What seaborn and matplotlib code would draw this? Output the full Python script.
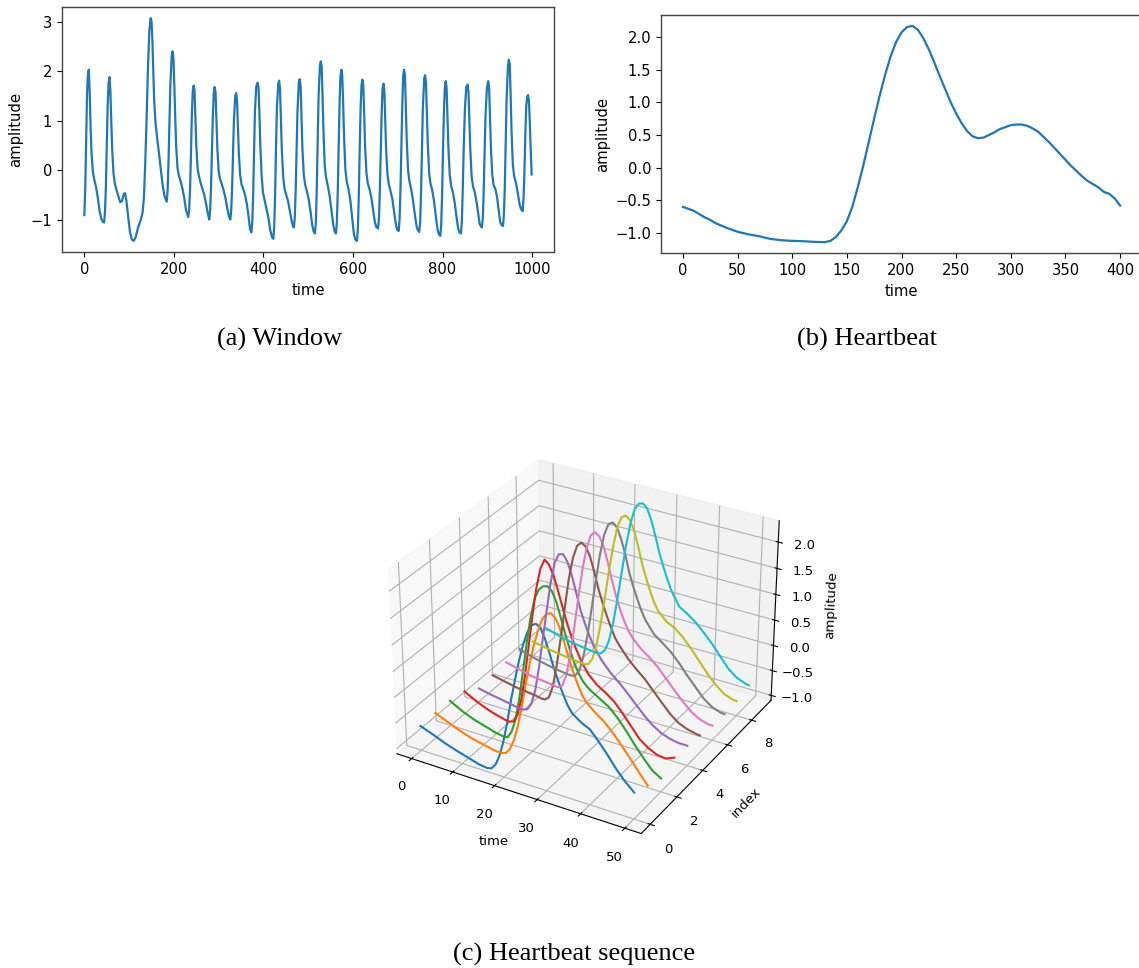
import matplotlib
matplotlib.use("Agg")
import matplotlib.pyplot as plt
import seaborn as sns

W, H = 1139, 968

# ---- panel (a) window
window_time = [
    0, 2, 4, 6, 8, 10, 12, 14, 16, 19, 22, 26, 30, 34, 38, 41, 44,
    46, 48, 50, 52, 54, 56, 58, 60, 62, 65, 68, 72, 76, 80, 84, 88, 91, 94, 98, 102, 106, 110,
    114, 120, 126, 130, 133, 136, 139, 142, 145, 148, 150, 152, 154, 156, 159, 163, 167, 171, 175, 179, 184,
    186, 188, 190, 192, 195, 197, 199, 201, 203, 205, 208, 211, 215, 219, 223, 227, 232,
    234, 236, 238, 240, 242, 244, 246, 248, 250, 253, 256, 260, 264, 268, 272, 276, 279,
    281, 283, 285, 287, 289, 291, 293, 295, 297, 300, 303, 307, 311, 315, 319, 323, 326,
    328, 330, 332, 334, 337, 339, 341, 343, 345, 348, 351, 355, 359, 363, 367, 370, 373,
    375, 377, 379, 381, 384, 387, 389, 391, 393, 396, 399, 403, 407, 411, 415, 419, 422,
    424, 426, 428, 430, 433, 435, 437, 439, 441, 444, 447, 451, 455, 459, 463, 466, 468,
    470, 472, 474, 476, 479, 481, 483, 485, 487, 490, 493, 497, 501, 505, 509, 512, 515,
    517, 519, 521, 523, 526, 528, 530, 532, 534, 537, 540, 544, 548, 552, 556, 559, 562,
    564, 566, 568, 570, 572, 574, 576, 578, 580, 583, 586, 590, 594, 598, 602, 605, 609,
    611, 613, 615, 617, 619, 621, 623, 625, 627, 630, 633, 637, 641, 645, 649, 652, 656,
    658, 660, 662, 664, 666, 668, 670, 672, 674, 677, 680, 684, 688, 692, 696, 699, 702,
    704, 706, 708, 710, 712, 714, 716, 718, 720, 723, 726, 730, 734, 738, 742, 745, 748,
    750, 752, 754, 756, 759, 761, 763, 765, 767, 770, 773, 777, 781, 785, 789, 792, 795,
    797, 799, 801, 803, 805, 807, 809, 811, 813, 816, 819, 823, 827, 831, 835, 838, 841,
    843, 845, 847, 850, 853, 856, 858, 860, 862, 865, 868, 872, 876, 880, 883, 886, 888,
    890, 892, 894, 896, 899, 902, 904, 906, 908, 911, 914, 918, 922, 926, 929, 932, 935,
    937, 939, 941, 943, 946, 948, 950, 952, 954, 957, 960, 964, 968, 972, 975, 977, 979,
    981, 983, 985, 987, 989, 991, 993, 995, 997, 999,
]
window_amp = [
    -0.90, -0.35, 0.55, 1.55, 1.95, 2.03, 1.55, 0.85, 0.35, -0.03, -0.18, -0.33, -0.55, -0.82, -0.98, -1.03, -1.05,
    -0.85, -0.35, 0.45, 1.3, 1.75, 1.88, 1.62, 1.0, 0.45, -0.05, -0.26, -0.40, -0.52, -0.64, -0.62, -0.47, -0.46, -0.62, -0.95, -1.25, -1.39, -1.42,
    -1.36, -1.15, -1.0, -0.85, -0.55, 0.15, 1.05, 2.05, 2.8, 3.07, 3.0, 2.6, 2.0, 1.4, 0.95, 0.62, 0.32, 0.0, -0.30, -0.52, -0.63,
    -0.4, 0.2, 0.95, 1.7, 2.3, 2.4, 2.25, 1.7, 1.05, 0.5, 0.05, -0.10, -0.22, -0.36, -0.55, -0.80, -0.94,
    -0.8, -0.4, 0.3, 1.1, 1.58, 1.71, 1.62, 1.05, 0.5, 0.03, -0.12, -0.26, -0.38, -0.50, -0.68, -0.88, -0.99,
    -0.8, -0.3, 0.4, 1.1, 1.55, 1.68, 1.58, 1.0, 0.45, -0.02, -0.17, -0.28, -0.40, -0.55, -0.75, -0.93, -0.99,
    -0.8, -0.35, 0.35, 1.0, 1.5, 1.56, 1.42, 0.9, 0.35, -0.10, -0.28, -0.38, -0.50, -0.68, -0.95, -1.18, -1.25,
    -1.05, -0.5, 0.4, 1.2, 1.7, 1.77, 1.68, 1.15, 0.5, -0.12, -0.45, -0.62, -0.78, -0.95, -1.2, -1.34, -1.38,
    -1.15, -0.5, 0.45, 1.25, 1.75, 1.81, 1.65, 1.05, 0.42, -0.12, -0.36, -0.50, -0.62, -0.82, -1.02, -1.12, -1.15,
    -0.95, -0.4, 0.4, 1.2, 1.78, 1.84, 1.7, 1.05, 0.45, -0.08, -0.28, -0.42, -0.58, -0.82, -1.10, -1.23, -1.27,
    -1.05, -0.4, 0.55, 1.45, 2.1, 2.2, 2.1, 1.5, 0.8, 0.08, -0.15, -0.32, -0.52, -0.82, -1.1, -1.23, -1.27,
    -1.05, -0.4, 0.5, 1.35, 1.9, 2.03, 1.92, 1.35, 0.68, 0.02, -0.22, -0.38, -0.6, -0.95, -1.28, -1.39, -1.42,
    -1.15, -0.5, 0.45, 1.25, 1.72, 1.83, 1.72, 1.15, 0.48, -0.05, -0.26, -0.38, -0.55, -0.80, -1.05, -1.14, -1.17,
    -0.95, -0.4, 0.35, 1.15, 1.65, 1.75, 1.62, 1.05, 0.42, -0.08, -0.28, -0.42, -0.58, -0.85, -1.1, -1.2, -1.22,
    -1.0, -0.4, 0.45, 1.3, 1.9, 2.03, 1.92, 1.3, 0.62, 0.0, -0.22, -0.38, -0.60, -0.88, -1.12, -1.21, -1.24,
    -1.05, -0.45, 0.4, 1.25, 1.85, 1.92, 1.78, 1.2, 0.55, -0.05, -0.26, -0.40, -0.62, -0.92, -1.2, -1.29, -1.32,
    -1.1, -0.5, 0.4, 1.15, 1.65, 1.8, 1.68, 1.1, 0.48, -0.08, -0.30, -0.44, -0.64, -0.92, -1.18, -1.25, -1.27,
    -1.05, -0.45, 0.35, 1.25, 1.68, 1.73, 1.58, 1.0, 0.42, -0.12, -0.32, -0.44, -0.64, -0.90, -1.08, -1.13, -1.15,
    -0.95, -0.4, 0.4, 1.1, 1.65, 1.8, 1.68, 1.1, 0.48, -0.08, -0.30, -0.37, -0.55, -0.85, -1.05, -1.10, -1.12,
    -0.9, -0.35, 0.5, 1.4, 2.1, 2.23, 2.15, 1.55, 0.82, 0.12, -0.12, -0.25, -0.45, -0.68, -0.77, -0.80, -0.82,
    -0.55, 0.0, 0.75, 1.3, 1.48, 1.52, 1.4, 0.95, 0.4, -0.08,
]

# ---- panel (b) one heartbeat
beat_time = [
    0, 5, 10, 15, 20, 25, 30, 40, 50, 60, 70, 80, 90, 100, 110, 120, 130, 135, 140, 145,
    150, 155, 160, 165, 170, 175, 180, 185, 190, 195, 200, 205, 210, 215, 220, 225, 230, 235, 240, 245,
    250, 255, 260, 265, 270, 275, 280, 285, 290, 295, 300, 305, 310, 315, 320, 325, 330, 335, 340, 345,
    350, 355, 360, 365, 370, 375, 380, 385, 390, 395, 400,
]
beat_amp = [
    -0.60, -0.63, -0.66, -0.71, -0.76, -0.80, -0.85, -0.92, -0.98, -1.02, -1.05, -1.09, -1.11, -1.12, -1.125, -1.135, -1.14, -1.12, -1.06, -0.96,
    -0.82, -0.60, -0.30, 0.03, 0.39, 0.75, 1.10, 1.42, 1.70, 1.92, 2.07, 2.15, 2.17, 2.11, 1.98, 1.81, 1.61, 1.40, 1.20, 1.00,
    0.83, 0.68, 0.56, 0.48, 0.45, 0.46, 0.50, 0.54, 0.59, 0.62, 0.65, 0.66, 0.66, 0.64, 0.60, 0.55, 0.47, 0.39, 0.30, 0.21,
    0.12, 0.03, -0.05, -0.13, -0.20, -0.25, -0.30, -0.37, -0.40, -0.47, -0.58,
]

# ---- panel (c) ten heartbeats, each with its own peak position
seq_time_0 = [0, 3, 6, 9, 12, 14, 16, 17, 18, 19, 20, 21, 22, 23, 24, 25, 26, 27, 28, 29, 30, 31, 32, 33, 34, 35, 36, 38, 40, 42, 44, 46, 48, 50]
seq_amp_0 = [-0.62, -0.71, -0.81, -0.89, -0.96, -1.01, -1.03, -1.01, -0.91, -0.71, -0.41, -0.01, 0.44, 0.84, 1.22, 1.54, 1.79, 1.94, 1.99, 1.94, 1.76, 1.52, 1.26, 1.04, 0.84, 0.66, 0.54, 0.42, 0.34, 0.16, -0.04, -0.26, -0.44, -0.59]
seq_time_1 = [0, 3, 6, 9, 12, 14, 16, 17, 18, 19, 20, 21, 22, 23, 24, 25, 26, 27, 28, 29, 30, 31, 32, 33, 34, 35, 36, 38, 40, 42, 44, 46, 48, 50]
seq_amp_1 = [-0.61, -0.71, -0.81, -0.89, -0.94, -0.98, -0.99, -0.96, -0.86, -0.66, -0.36, 0.04, 0.49, 0.90, 1.26, 1.56, 1.80, 1.92, 1.96, 1.90, 1.74, 1.50, 1.24, 1.00, 0.80, 0.62, 0.50, 0.36, 0.24, 0.08, -0.11, -0.31, -0.52, -0.72]
seq_time_2 = [0, 3, 6, 9, 11, 13, 14, 15, 16, 17, 18, 19, 20, 21, 22, 23, 24, 25, 26, 27, 28, 29, 30, 31, 32, 33, 34, 36, 38, 40, 42, 44, 46, 48, 50]
seq_amp_2 = [-0.61, -0.74, -0.84, -0.91, -0.96, -0.99, -0.98, -0.84, -0.58, -0.14, 0.42, 0.99, 1.49, 1.86, 2.04, 2.12, 2.14, 2.07, 1.89, 1.62, 1.34, 1.09, 0.86, 0.69, 0.56, 0.48, 0.42, 0.32, 0.22, 0.06, -0.14, -0.36, -0.56, -0.74, -0.84]
seq_time_3 = [0, 3, 6, 8, 10, 11, 12, 13, 14, 15, 16, 17, 18, 19, 20, 21, 22, 23, 24, 25, 26, 27, 28, 29, 30, 32, 34, 36, 38, 40, 42, 44, 46, 48, 50]
seq_amp_3 = [-0.66, -0.79, -0.89, -0.94, -0.98, -0.99, -0.96, -0.81, -0.48, 0.02, 0.62, 1.22, 1.76, 2.14, 2.33, 2.26, 2.09, 1.84, 1.56, 1.29, 1.06, 0.86, 0.69, 0.54, 0.42, 0.26, 0.16, 0.04, -0.14, -0.34, -0.54, -0.66, -0.74, -0.76, -0.69]
seq_time_4 = [0, 3, 6, 8, 10, 11, 12, 13, 14, 15, 16, 17, 18, 19, 20, 21, 22, 23, 24, 25, 26, 27, 28, 29, 30, 32, 34, 36, 38, 40, 42, 44, 46, 48, 50]
seq_amp_4 = [-0.84, -0.89, -0.93, -0.96, -0.99, -0.99, -0.96, -0.83, -0.54, -0.06, 0.52, 1.09, 1.64, 2.04, 2.22, 2.24, 2.12, 1.89, 1.59, 1.29, 1.06, 0.86, 0.69, 0.56, 0.44, 0.26, 0.12, -0.04, -0.21, -0.38, -0.52, -0.62, -0.68, -0.71, -0.71]
seq_time_5 = [0, 3, 6, 9, 11, 12, 13, 14, 15, 16, 17, 18, 19, 20, 21, 22, 23, 24, 25, 26, 27, 28, 29, 30, 31, 33, 35, 37, 39, 41, 43, 45, 47, 49, 50]
seq_amp_5 = [-0.81, -0.86, -0.91, -0.94, -0.96, -0.98, -0.98, -0.91, -0.66, -0.21, 0.34, 0.94, 1.52, 1.94, 2.19, 2.27, 2.22, 2.06, 1.79, 1.49, 1.24, 1.02, 0.82, 0.64, 0.52, 0.32, 0.16, 0.02, -0.16, -0.34, -0.51, -0.64, -0.71, -0.75, -0.76]
seq_time_6 = [0, 3, 6, 9, 11, 12, 13, 14, 15, 16, 17, 18, 19, 20, 21, 22, 23, 24, 25, 26, 27, 28, 29, 30, 31, 33, 35, 37, 39, 41, 43, 45, 47, 49, 50]
seq_amp_6 = [-0.78, -0.84, -0.90, -0.93, -0.95, -0.96, -0.97, -0.91, -0.68, -0.24, 0.32, 0.92, 1.49, 1.92, 2.18, 2.26, 2.20, 2.04, 1.76, 1.44, 1.16, 0.92, 0.72, 0.56, 0.44, 0.28, 0.16, 0.02, -0.16, -0.34, -0.51, -0.66, -0.76, -0.81, -0.81]
seq_time_7 = [0, 3, 6, 9, 11, 12, 13, 14, 15, 16, 17, 18, 19, 20, 21, 22, 23, 24, 25, 26, 27, 28, 29, 30, 31, 33, 35, 37, 39, 41, 43, 45, 47, 49, 50]
seq_amp_7 = [-0.74, -0.82, -0.88, -0.93, -0.95, -0.96, -0.97, -0.94, -0.81, -0.51, -0.06, 0.49, 1.06, 1.59, 1.99, 2.21, 2.26, 2.19, 1.99, 1.72, 1.39, 1.14, 0.92, 0.72, 0.56, 0.34, 0.22, 0.09, -0.08, -0.28, -0.46, -0.64, -0.76, -0.82, -0.83]
seq_time_8 = [0, 3, 6, 9, 11, 12, 13, 14, 15, 16, 17, 18, 19, 20, 21, 22, 23, 24, 25, 26, 27, 28, 29, 30, 31, 33, 35, 37, 39, 41, 43, 45, 47, 49, 50]
seq_amp_8 = [-0.81, -0.86, -0.90, -0.93, -0.95, -0.96, -0.97, -0.94, -0.81, -0.52, -0.08, 0.46, 1.02, 1.54, 1.94, 2.14, 2.19, 2.12, 1.94, 1.66, 1.34, 1.09, 0.86, 0.66, 0.52, 0.36, 0.28, 0.14, -0.04, -0.24, -0.44, -0.61, -0.74, -0.80, -0.81]
seq_time_9 = [0, 3, 6, 9, 11, 12, 13, 14, 15, 16, 17, 18, 19, 20, 21, 22, 23, 24, 25, 26, 27, 28, 29, 30, 31, 33, 35, 37, 39, 41, 43, 45, 47, 49, 50]
seq_amp_9 = [-0.76, -0.83, -0.89, -0.93, -0.95, -0.96, -0.97, -0.95, -0.86, -0.64, -0.26, 0.24, 0.79, 1.34, 1.79, 2.09, 2.22, 2.24, 2.16, 1.96, 1.69, 1.39, 1.14, 0.92, 0.72, 0.44, 0.34, 0.22, 0.06, -0.11, -0.31, -0.51, -0.64, -0.71, -0.73]
seq_times = [seq_time_0, seq_time_1, seq_time_2, seq_time_3, seq_time_4, seq_time_5, seq_time_6, seq_time_7, seq_time_8, seq_time_9]
seq_amps = [seq_amp_0, seq_amp_1, seq_amp_2, seq_amp_3, seq_amp_4, seq_amp_5, seq_amp_6, seq_amp_7, seq_amp_8, seq_amp_9]

captions = ["(a) Window", "(b) Heartbeat", "(c) Heartbeat sequence"]

palette = sns.color_palette("tab10")


def box(left, top, right, bottom):
    return [left / W, 1 - bottom / H, (right - left) / W, (bottom - top) / H]


fig = plt.figure(figsize=(W / 100, H / 100), dpi=100)

# ---------------- (a)
ax1 = fig.add_axes(box(62, 7, 554, 252))
sns.lineplot(x=window_time, y=window_amp, color=palette[0], errorbar=None, sort=False, linewidth=1.6, ax=ax1)
ax1.set_xlabel("time", fontsize=10.6, labelpad=4.5)
ax1.set_ylabel("amplitude", fontsize=10.6, labelpad=5.5)
ax1.tick_params(labelsize=10.6)

# ---------------- (b) right edge runs past the canvas in the reference
ax2 = fig.add_axes(box(661, 15, 1142, 253))
sns.lineplot(x=beat_time, y=beat_amp, color=palette[0], errorbar=None, sort=False, linewidth=1.6, ax=ax2)
ax2.set_xlabel("time", fontsize=10.6, labelpad=4.5)
ax2.set_ylabel("amplitude", fontsize=10.6, labelpad=4)
ax2.tick_params(labelsize=10.6)

for ax in [ax1, ax2]:
    for spine in ax.spines.values():
        spine.set_color("#444444")
        spine.set_linewidth(1.0)

# ---------------- (c)
ax3 = fig.add_axes(box(364, 426, 799, 861), projection="3d")
for i in range(len(seq_amps)):
    ax3.plot(seq_times[i], [i] * len(seq_times[i]), seq_amps[i], color=palette[i], linewidth=1.5)
ax3.set_xticks([0, 10, 20, 30, 40, 50])
ax3.set_yticks([0, 2, 4, 6, 8])
ax3.set_zticks([-1.0, -0.5, 0.0, 0.5, 1.0, 1.5, 2.0])
ax3.set_xlabel("time", fontsize=9.5)
ax3.set_ylabel("index", fontsize=9.5)
ax3.set_zlabel("amplitude", fontsize=9.5)
ax3.tick_params(labelsize=9.5)

for text, cx, cy in zip(captions, [280, 867.5, 574], [339, 339, 954]):
    fig.text(cx / W, 1 - cy / H, text, ha="center", va="center", family="Liberation Serif", fontsize=19)

fig.savefig("out.png", dpi=100)
